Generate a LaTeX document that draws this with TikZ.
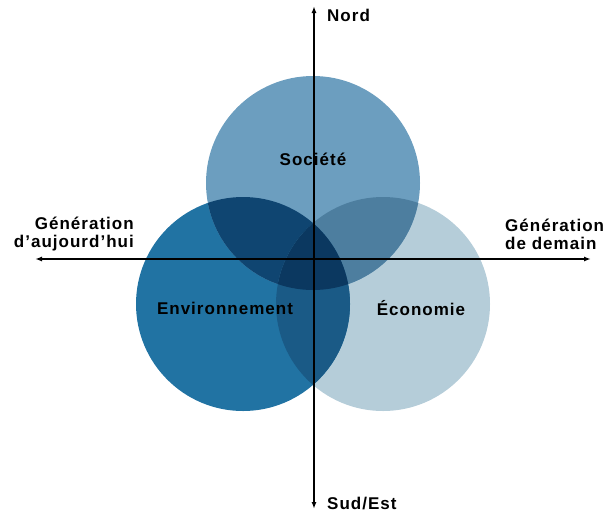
\documentclass[tikz,border=0pt]{standalone}
\usepackage{fontspec}
\setmainfont{Liberation Sans}
\usetikzlibrary{arrows.meta}

\definecolor{socblue}{HTML}{6C9EBF}
\definecolor{envblue}{HTML}{2173A3}
\definecolor{ecoblue}{HTML}{B5CDD9}
\definecolor{socenv}{HTML}{0F4571}
\definecolor{soceco}{HTML}{4D7E9F}
\definecolor{enveco}{HTML}{1A5A86}
\definecolor{allthree}{HTML}{0B3860}

\begin{document}
\begin{tikzpicture}[x=1pt,y=-1pt,
    txt/.style={font=\bfseries\fontsize{17}{18}\selectfont\addfontfeature{LetterSpace=6}, inner sep=0pt},
    axis/.style={line width=1.6pt, {Latex[length=7pt,width=5pt]}-{Latex[length=7pt,width=5pt]}}]
    \useasboundingbox (0,0) rectangle (609,515);
    \def\r{107}
    \coordinate (cs) at (313,183);
    \coordinate (ce) at (243,304);
    \coordinate (cc) at (383,304);
    % the three circles
    \fill[ecoblue] (cc) circle (\r);
    \fill[envblue] (ce) circle (\r);
    \fill[socblue] (cs) circle (\r);
    % overlaps
    \begin{scope}
      \clip (cs) circle (\r);
      \fill[socenv] (ce) circle (\r);
      \fill[soceco] (cc) circle (\r);
    \end{scope}
    \begin{scope}
      \clip (ce) circle (\r);
      \fill[enveco] (cc) circle (\r);
      \clip (cs) circle (\r);
      \fill[allthree] (cc) circle (\r);
    \end{scope}
    % axes
    \coordinate (nord) at (314,6);
    \coordinate (sud) at (314,509);
    \coordinate (ouest) at (35,259);
    \coordinate (est) at (591,259);
    \draw[axis] (sud) -- (nord);
    \draw[axis] (ouest) -- (est);
    % labels
    \node[txt] (soc) at (313,159) {Société};
    \node[txt] (env) at (225,308) {Environnement};
    \node[txt] (eco) at (421,308) {Économie};
    \node[txt, anchor=west] (nordlbl) at (327,15) {Nord};
    \node[txt, anchor=west] (sudlbl) at (327,503) {Sud/Est};
    \node[txt, anchor=east, align=right] (auj) at (134,234) {Génération\\d'aujourd'hui};
    \node[txt, anchor=west, align=left] (dem) at (505,234) {Génération\\de demain};
  \end{tikzpicture}
\end{document}
